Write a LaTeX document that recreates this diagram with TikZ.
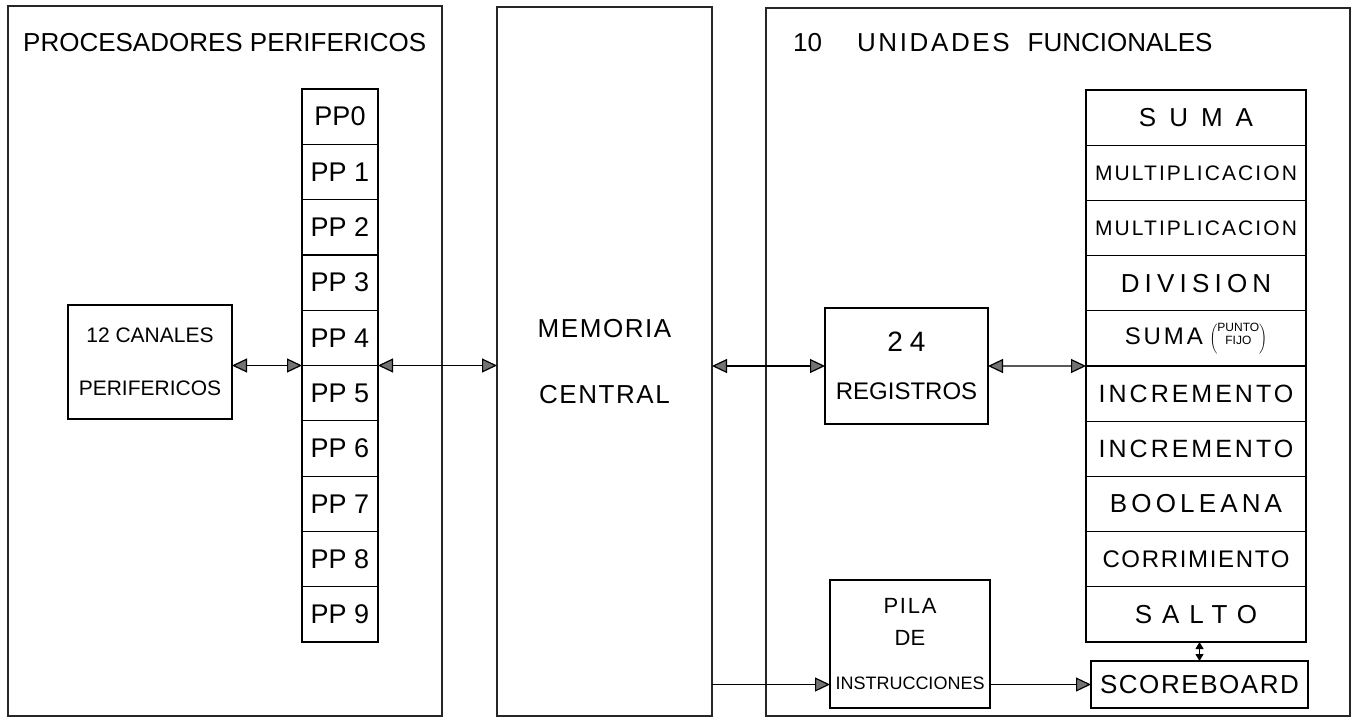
\documentclass[tikz,border=0pt]{standalone}
\usepackage{fontspec}
\setmainfont{Liberation Sans}
\usetikzlibrary{arrows.meta,positioning,calc}
\newcommand{\lsp}[2]{{\addfontfeature{LetterSpace=#1}#2}}
\tikzset{
  frame/.style={draw=black!85,line width=1.1pt,inner sep=0pt,outer sep=0pt},
  cell/.style={draw,line width=1.2pt,inner sep=0pt,outer sep=0pt,align=center},
  ppcell/.style={cell,minimum width=76pt,minimum height=55.3pt,font=\fontsize{27}{29}\selectfont},
  fucell/.style={cell,minimum width=220pt,minimum height=55.2pt,font=\fontsize{24}{26}\selectfont},
  ubox/.style={cell,align=center},
  ttl/.style={font=\fontsize{26}{28}\selectfont,anchor=west,inner sep=0pt},
  bidir/.style={{Triangle[length=15pt,width=14pt,fill=black!55]}-{Triangle[length=15pt,width=14pt,fill=black!55]},line width=1.2pt},
  uni/.style={-{Triangle[length=15pt,width=14pt,fill=black!55]},line width=1.2pt},
  smallbi/.style={{Triangle[length=7pt,width=8pt]}-{Triangle[length=7pt,width=8pt]},line width=1.2pt},
}

\begin{document}
\begin{tikzpicture}[x=1pt,y=-1pt,node distance=0pt]
\useasboundingbox (0,0) rectangle (1356,722);
% frames
\node[frame,minimum width=434pt,minimum height=710pt] (fpp) at (225,361) {};
\node[frame,minimum width=215pt,minimum height=709pt,align=center,font=\fontsize{26}{28}\selectfont] (fmem) at (604.5,361.5) {\lsp{6}{MEMORIA}\\[38pt]\lsp{6}{CENTRAL}};
\node[frame,minimum width=584pt,minimum height=708pt] (ffu) at (1058,362) {};
\node[ttl] (ttlpp) at (23,43) {PROCESADORES PERIFERICOS};
\node[ttl] (ttlfu) at (793,43) {10\hspace{35pt}\lsp{10}{UNIDADES}\hspace{18pt}FUNCIONALES};

% procesadores perifericos
\node[ppcell] (pp0) at (340,116.65) {PP0};
\node[ppcell,below=of pp0] (pp1) {PP 1};
\node[ppcell,below=of pp1] (pp2) {PP 2};
\node[ppcell,below=of pp2] (pp3) {PP 3};
\node[ppcell,below=of pp3] (pp4) {PP 4};
\node[ppcell,below=of pp4] (pp5) {PP 5};
\node[ppcell,below=of pp5] (pp6) {PP 6};
\node[ppcell,below=of pp6] (pp7) {PP 7};
\node[ppcell,below=of pp7] (pp8) {PP 8};
\node[ppcell,below=of pp8] (pp9) {PP 9};
\node[ubox,minimum width=164pt,minimum height=114pt,font=\fontsize{21}{23}\selectfont] (canales) at (150,362) {12 CANALES\\[30pt]PERIFERICOS};

% unidades funcionales
\node[fucell] (fu0) at (1196,117.6) {\fontsize{26}{28}\selectfont\lsp{50}{SUMA}};
\node[fucell,below=of fu0] (fu1) {\fontsize{21}{23}\selectfont\lsp{10}{MULTIPLICACION}};
\node[fucell,below=of fu1] (fu2) {\fontsize{21}{23}\selectfont\lsp{10}{MULTIPLICACION}};
\node[fucell,below=of fu2] (fu3) {\fontsize{26}{28}\selectfont\lsp{20}{DIVISION}};
\node[fucell,below=of fu3] (fu4) {\lsp{12}{SUMA} $\left(\mbox{\fontsize{12}{13}\selectfont\shortstack{PUNTO\\[2pt]FIJO}}\right)$};
\node[fucell,below=of fu4] (fu5) {\fontsize{25}{27}\selectfont\lsp{12}{INCREMENTO}};
\node[fucell,below=of fu5] (fu6) {\fontsize{25}{27}\selectfont\lsp{12}{INCREMENTO}};
\node[fucell,below=of fu6] (fu7) {\fontsize{26}{28}\selectfont\lsp{16}{BOOLEANA}};
\node[fucell,below=of fu7] (fu8) {\lsp{7}{CORRIMIENTO}};
\node[fucell,below=of fu8] (fu9) {\fontsize{26}{28}\selectfont\lsp{38}{SALTO}};
\node[ubox,minimum width=163pt,minimum height=116pt,font=\fontsize{24}{26}\selectfont] (regs) at (906.5,366) {\fontsize{28}{30}\selectfont\lsp{25}{24}\\[22pt]REGISTROS};
\node[ubox,minimum width=160pt,minimum height=128pt,font=\fontsize{22}{22}\selectfont] (pila) at (910,644) {\lsp{8}{PILA}\\[10pt]DE\\[22pt]{\fontsize{18}{18}\selectfont INSTRUCCIONES}};
\node[ubox,minimum width=217pt,minimum height=47pt,font=\fontsize{26}{28}\selectfont] (score) at (1199.5,684.5) {\lsp{6}{SCOREBOARD}};

% conexiones
\draw[bidir] (canales.east |- pp4.south west) -- (pp4.south west);
\draw[bidir] (pp4.south east) -- (fmem.west |- pp4.south east);
\draw[bidir] (fmem.east |- regs.west) -- (regs.west);
\draw[bidir] (regs.east) -- (fu4.south west);
\draw[uni] (fmem.east |- score.west) -- (pila.west |- score.west);
\draw[uni] (pila.east |- score.west) -- (score.west);
\draw[smallbi] (score.north) -- (fu9.south -| score.north);
\end{tikzpicture}
\end{document}
